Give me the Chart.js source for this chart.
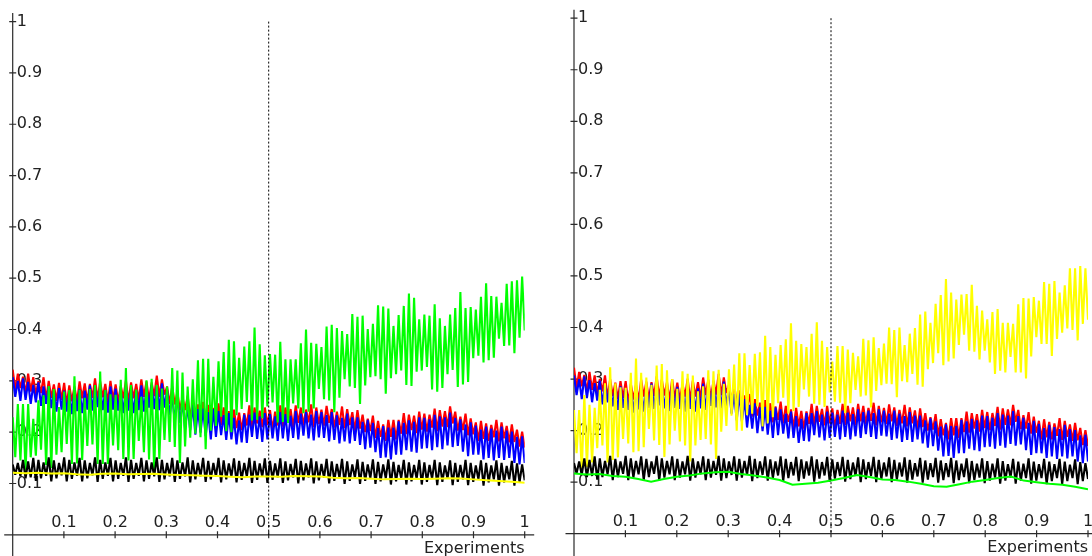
<!DOCTYPE html>
<html>
<head>
<meta charset="utf-8">
<title>Experiments</title>
<script src="https://cdn.jsdelivr.net/npm/chart.js@4.4.1/dist/chart.umd.min.js"></script>
<style>
  html, body { margin: 0; padding: 0; background: #fff; overflow: hidden; width: 1092px; height: 556px; }
  canvas { position: absolute; top: 0; }
  #left { left: 0; }
  #right { left: 561px; }
</style>
</head>
<body>
<canvas id="left" width="546" height="556"></canvas>
<canvas id="right" width="546" height="556"></canvas>
<script>
// ---- axis ticks ----
const xTicks = [0.1, 0.2, 0.3, 0.4, 0.5, 0.6, 0.7, 0.8, 0.9, 1];
const xTickLabels = ['0.1', '0.2', '0.3', '0.4', '0.5', '0.6', '0.7', '0.8', '0.9', '1'];
const yTicks = [0.1, 0.2, 0.3, 0.4, 0.5, 0.6, 0.7, 0.8, 0.9, 1];
const yTickLabels = ['0.1', '0.2', '0.3', '0.4', '0.5', '0.6', '0.7', '0.8', '0.9', '1'];
const markerX = 0.5;
const xTitle = 'Experiments';

// ---- oscillating series: upper / lower value of each swing (100 swings over 0..1) ----
const redHi = [
  0.322,0.314,0.308,0.314,0.307,0.300,0.307,0.300,0.293,0.296,
  0.296,0.291,0.289,0.299,0.295,0.294,0.305,0.299,0.294,0.300,
  0.293,0.290,0.301,0.297,0.294,0.303,0.299,0.297,0.310,0.303,
  0.289,0.289,0.278,0.268,0.271,0.261,0.254,0.259,0.253,0.247,
  0.256,0.248,0.241,0.244,0.238,0.237,0.252,0.248,0.242,0.248,
  0.243,0.240,0.252,0.248,0.245,0.252,0.248,0.244,0.254,0.248,
  0.244,0.251,0.245,0.240,0.250,0.245,0.239,0.243,0.234,0.226,
  0.232,0.222,0.215,0.224,0.224,0.224,0.237,0.234,0.232,0.240,
  0.236,0.234,0.246,0.243,0.241,0.250,0.240,0.230,0.236,0.227,
  0.219,0.222,0.217,0.214,0.224,0.219,0.212,0.215,0.205,0.201];
const redLo = [
  0.282,0.286,0.274,0.279,0.272,0.276,0.263,0.267,0.261,0.263,
  0.253,0.260,0.258,0.266,0.259,0.267,0.263,0.268,0.258,0.263,
  0.259,0.266,0.258,0.266,0.262,0.269,0.261,0.270,0.269,0.273,
  0.255,0.254,0.243,0.243,0.227,0.229,0.223,0.227,0.216,0.221,
  0.214,0.217,0.205,0.208,0.204,0.213,0.210,0.217,0.210,0.214,
  0.205,0.213,0.211,0.218,0.210,0.218,0.213,0.219,0.210,0.216,
  0.213,0.218,0.209,0.214,0.208,0.214,0.203,0.207,0.200,0.202,
  0.189,0.191,0.183,0.191,0.186,0.197,0.196,0.204,0.198,0.205,
  0.201,0.209,0.202,0.211,0.210,0.217,0.203,0.204,0.194,0.196,
  0.183,0.187,0.183,0.190,0.182,0.188,0.180,0.181,0.172,0.170];
const blueHi = [
  0.307,0.300,0.305,0.298,0.292,0.297,0.289,0.289,0.281,0.286,
  0.281,0.277,0.286,0.283,0.281,0.291,0.286,0.288,0.282,0.289,
  0.285,0.281,0.289,0.285,0.282,0.291,0.287,0.292,0.289,0.295,
  0.283,0.271,0.272,0.261,0.250,0.253,0.245,0.246,0.239,0.245,
  0.241,0.233,0.237,0.228,0.223,0.234,0.234,0.238,0.231,0.237,
  0.235,0.231,0.239,0.235,0.232,0.241,0.236,0.239,0.234,0.241,
  0.239,0.233,0.239,0.233,0.228,0.236,0.229,0.229,0.220,0.224,
  0.218,0.208,0.212,0.209,0.209,0.221,0.218,0.223,0.220,0.229,
  0.228,0.225,0.234,0.231,0.229,0.238,0.228,0.225,0.215,0.219,
  0.213,0.205,0.211,0.207,0.203,0.211,0.203,0.201,0.191,0.192];
const blueLo = [
  0.269,0.261,0.263,0.255,0.258,0.251,0.255,0.247,0.240,0.244,
  0.240,0.235,0.241,0.237,0.244,0.242,0.249,0.243,0.238,0.244,
  0.242,0.237,0.242,0.237,0.243,0.240,0.248,0.245,0.243,0.248,
  0.233,0.220,0.218,0.206,0.204,0.195,0.199,0.192,0.186,0.191,
  0.194,0.185,0.186,0.176,0.180,0.179,0.191,0.187,0.181,0.186,
  0.188,0.183,0.188,0.183,0.189,0.186,0.193,0.188,0.184,0.190,
  0.189,0.182,0.185,0.178,0.182,0.178,0.183,0.175,0.167,0.170,
  0.161,0.150,0.151,0.147,0.156,0.156,0.165,0.162,0.160,0.168,
  0.169,0.165,0.171,0.167,0.174,0.171,0.173,0.162,0.153,0.156,
  0.156,0.147,0.150,0.145,0.150,0.146,0.150,0.140,0.137,0.140];
const blackHi = [
  0.137,0.140,0.146,0.143,0.150,0.146,0.141,0.151,0.145,0.140,
  0.151,0.146,0.141,0.150,0.145,0.140,0.151,0.146,0.141,0.150,
  0.145,0.140,0.151,0.146,0.140,0.150,0.145,0.141,0.151,0.146,
  0.140,0.150,0.145,0.141,0.151,0.145,0.140,0.150,0.144,0.140,
  0.150,0.145,0.139,0.149,0.144,0.140,0.150,0.144,0.139,0.149,
  0.144,0.139,0.149,0.143,0.138,0.148,0.144,0.139,0.149,0.143,
  0.138,0.148,0.143,0.138,0.148,0.143,0.137,0.147,0.142,0.137,
  0.147,0.142,0.137,0.147,0.142,0.136,0.146,0.141,0.136,0.146,
  0.141,0.136,0.146,0.141,0.135,0.145,0.140,0.136,0.146,0.140,
  0.135,0.145,0.140,0.135,0.145,0.140,0.134,0.144,0.139,0.137];
const blackLo = [
  0.117,0.114,0.110,0.112,0.105,0.110,0.115,0.104,0.110,0.116,
  0.104,0.109,0.115,0.104,0.110,0.116,0.103,0.109,0.115,0.104,
  0.109,0.115,0.103,0.109,0.115,0.104,0.109,0.114,0.103,0.108,
  0.114,0.103,0.109,0.114,0.102,0.108,0.114,0.103,0.108,0.113,
  0.102,0.108,0.113,0.102,0.107,0.113,0.101,0.107,0.113,0.101,
  0.107,0.112,0.101,0.106,0.112,0.100,0.106,0.112,0.100,0.106,
  0.111,0.100,0.105,0.111,0.099,0.105,0.111,0.099,0.105,0.110,
  0.099,0.104,0.110,0.098,0.104,0.110,0.098,0.104,0.109,0.098,
  0.103,0.109,0.097,0.103,0.109,0.097,0.103,0.108,0.097,0.103,
  0.108,0.096,0.102,0.108,0.096,0.102,0.108,0.096,0.102,0.106];
const greenRiseHi = [
  0.229,0.255,0.255,0.255,0.226,0.262,0.272,0.290,0.284,0.249,
  0.279,0.282,0.309,0.282,0.267,0.284,0.292,0.318,0.282,0.274,
  0.273,0.302,0.325,0.292,0.283,0.269,0.301,0.304,0.292,0.285,
  0.289,0.325,0.320,0.316,0.289,0.303,0.340,0.343,0.343,0.308,
  0.338,0.356,0.380,0.377,0.345,0.367,0.377,0.404,0.371,0.350,
  0.352,0.351,0.376,0.342,0.342,0.342,0.373,0.400,0.374,0.372,
  0.366,0.406,0.409,0.403,0.397,0.391,0.430,0.425,0.427,0.401,
  0.411,0.447,0.445,0.441,0.407,0.428,0.446,0.470,0.462,0.420,
  0.429,0.427,0.449,0.422,0.407,0.429,0.442,0.473,0.442,0.444,
  0.439,0.464,0.490,0.465,0.464,0.452,0.489,0.494,0.496,0.503];
const greenRiseLo = [
  0.151,0.145,0.125,0.151,0.154,0.166,0.136,0.130,0.156,0.161,
  0.177,0.138,0.139,0.146,0.173,0.176,0.138,0.138,0.138,0.174,
  0.165,0.148,0.145,0.148,0.183,0.161,0.147,0.124,0.148,0.185,
  0.181,0.171,0.140,0.172,0.189,0.197,0.190,0.167,0.203,0.212,
  0.230,0.202,0.200,0.233,0.245,0.259,0.223,0.224,0.227,0.250,
  0.258,0.219,0.220,0.218,0.256,0.246,0.237,0.240,0.246,0.284,
  0.264,0.262,0.239,0.267,0.303,0.289,0.286,0.255,0.291,0.307,
  0.309,0.303,0.275,0.305,0.313,0.320,0.292,0.290,0.318,0.320,
  0.327,0.283,0.279,0.286,0.313,0.321,0.288,0.293,0.298,0.344,
  0.349,0.336,0.340,0.345,0.382,0.368,0.369,0.354,0.384,0.398];
const yellowRiseHi = [
  0.240,0.240,0.269,0.250,0.244,0.279,0.292,0.323,0.292,0.284,
  0.283,0.312,0.340,0.312,0.303,0.289,0.326,0.329,0.317,0.300,
  0.281,0.315,0.310,0.307,0.276,0.286,0.317,0.315,0.318,0.291,
  0.319,0.328,0.350,0.350,0.327,0.349,0.352,0.384,0.362,0.347,
  0.366,0.377,0.408,0.374,0.368,0.362,0.388,0.410,0.374,0.362,
  0.334,0.364,0.364,0.357,0.351,0.344,0.378,0.375,0.381,0.360,
  0.369,0.400,0.395,0.400,0.366,0.388,0.399,0.425,0.431,0.409,
  0.446,0.463,0.494,0.468,0.454,0.464,0.465,0.483,0.442,0.433,
  0.416,0.430,0.436,0.409,0.409,0.407,0.445,0.457,0.456,0.459,
  0.452,0.488,0.485,0.490,0.468,0.482,0.515,0.515,0.519,0.515];
const yellowRiseLo = [
  0.156,0.120,0.129,0.138,0.166,0.171,0.138,0.143,0.148,0.184,
  0.175,0.158,0.160,0.168,0.203,0.181,0.172,0.149,0.173,0.200,
  0.179,0.171,0.140,0.171,0.182,0.184,0.173,0.145,0.198,0.209,
  0.229,0.200,0.200,0.230,0.233,0.247,0.208,0.214,0.226,0.253,
  0.264,0.233,0.238,0.246,0.280,0.266,0.252,0.250,0.246,0.274,
  0.256,0.254,0.234,0.253,0.279,0.266,0.268,0.245,0.277,0.288,
  0.291,0.290,0.265,0.296,0.294,0.310,0.289,0.285,0.319,0.331,
  0.350,0.327,0.334,0.340,0.366,0.386,0.355,0.353,0.338,0.355,
  0.332,0.310,0.316,0.313,0.343,0.313,0.313,0.301,0.344,0.381,
  0.368,0.368,0.345,0.378,0.390,0.398,0.395,0.375,0.407,0.415];

// ---- smooth baseline series (evenly spaced over 0..1) ----
const yellowBase = [0.121,0.120,0.121,0.1195,0.120,0.118,0.117,0.119,0.1195,0.118,0.1185,0.119,0.1175,0.1165,0.116,0.115,0.1145,0.113,0.112,0.1135,
  0.1135,0.113,0.1145,0.114,0.1135,0.111,0.110,0.1105,0.109,0.108,0.1085,0.109,0.1085,0.109,0.110,0.1095,0.108,0.1065,0.105,0.1035,0.1015];
const greenBase = [0.117,0.115,0.116,0.112,0.1105,0.106,0.101,0.106,0.1105,0.113,0.117,0.119,0.120,0.116,0.113,0.109,0.104,0.095,0.097,0.099,
  0.103,0.108,0.114,0.110,0.105,0.104,0.101,0.097,0.092,0.091,0.096,0.101,0.104,0.108,0.111,0.103,0.100,0.097,0.095,0.091,0.086];

// each swing: upper value, then lower value, on an even grid from 0 to 1
function swings(hi, lo) {
  const n = hi.length * 2 - 1;
  const pts = [];
  hi.forEach((h, k) => {
    pts.push({ x: (2 * k) / n, y: h });
    pts.push({ x: (2 * k + 1) / n, y: lo[k] });
  });
  return pts;
}
function evenly(vals) {
  return vals.map((v, i) => ({ x: i / (vals.length - 1), y: v }));
}

Chart.defaults.font.family = '"DejaVu Sans", sans-serif';
Chart.defaults.font.size = 16;
Chart.defaults.color = '#222';

// axis lines that run past the plot area and crossing tick marks (under the data),
// dotted marker line (over the data)
const axisDecor = {
  id: 'axisDecor',
  beforeDatasetsDraw(chart) {
    const { ctx, scales: { x, y } } = chart;
    const x0 = x.getPixelForValue(0), x1 = x.getPixelForValue(1);
    const y0 = y.getPixelForValue(0), y1 = y.getPixelForValue(1);
    ctx.save();
    ctx.strokeStyle = '#2b2b2b';
    ctx.lineWidth = 1.2;
    ctx.beginPath();
    ctx.moveTo(x0, y1 - 8.5); ctx.lineTo(x0, chart.height);
    ctx.moveTo(x0 - 8.5, y0); ctx.lineTo(x1 + 9.5, y0);
    yTicks.forEach(v => { const p = y.getPixelForValue(v); ctx.moveTo(x0 - 3.5, p); ctx.lineTo(x0 + 3.5, p); });
    xTicks.forEach(v => { const p = x.getPixelForValue(v); ctx.moveTo(p, y0 - 3.5); ctx.lineTo(p, y0 + 3.5); });
    ctx.stroke();
    ctx.restore();
  },
  afterDatasetsDraw(chart) {
    const { ctx, scales: { x, y } } = chart;
    const xm = x.getPixelForValue(markerX);
    ctx.save();
    ctx.setLineDash([2, 2]);
    ctx.strokeStyle = '#000';
    ctx.lineWidth = 1;
    ctx.beginPath();
    ctx.moveTo(xm, y.getPixelForValue(1)); ctx.lineTo(xm, y.getPixelForValue(0));
    ctx.stroke();
    ctx.restore();
  }
};

function swingSet(label, color, hi, lo) {
  return { label, data: swings(hi, lo), borderColor: color, borderWidth: 2.1,
           borderJoinStyle: 'bevel', pointRadius: 0, tension: 0, fill: false };
}
function baseSet(label, color, vals) {
  return { label, data: evenly(vals), borderColor: color, borderWidth: 2,
           pointRadius: 0, tension: 0, fill: false };
}

function makePanel(id, datasets, pad) {
  new Chart(document.getElementById(id), {
    type: 'line',
    data: { datasets },
    options: {
      responsive: false,
      animation: false,
      events: [],
      layout: { padding: pad },
      plugins: { legend: { display: false }, tooltip: { enabled: false } },
      scales: {
        x: {
          type: 'linear', min: 0, max: 1, position: 'bottom',
          afterBuildTicks: s => { s.ticks = xTicks.map(v => ({ value: v })); },
          afterFit: s => { s.height = 0; },
          grid: { display: false, drawTicks: false },
          border: { display: false },
          ticks: { mirror: true, autoSkip: false, maxRotation: 0, minRotation: 0, padding: 2.5,
                   callback: (v, i) => xTickLabels[i] },
          title: { display: true, text: xTitle, align: 'end', padding: { top: 0, bottom: -24 } }
        },
        y: {
          type: 'linear', min: 0, max: 1, position: 'left',
          afterBuildTicks: s => { s.ticks = yTicks.map(v => ({ value: v })); },
          afterFit: s => { s.width = 0; },
          grid: { display: false, drawTicks: false },
          border: { display: false },
          ticks: { mirror: true, padding: 4, callback: (v, i) => yTickLabels[i] }
        }
      }
    },
    plugins: [axisDecor]
  });
}

// first dataset is painted last (on top)
makePanel('left', [
  baseSet('yellow', '#ffff00', yellowBase),
  swingSet('black', '#000000', blackHi, blackLo),
  swingSet('green', '#00ff00', greenRiseHi, greenRiseLo),
  swingSet('blue', '#0000ff', blueHi, blueLo),
  swingSet('red', '#ff0000', redHi, redLo)
], { left: 12.7, right: 21.3, top: 21.6, bottom: 21.2 });

makePanel('right', [
  baseSet('green', '#00ff00', greenBase),
  swingSet('black', '#000000', blackHi, blackLo),
  swingSet('yellow', '#ffff00', yellowRiseHi, yellowRiseLo),
  swingSet('blue', '#0000ff', blueHi, blueLo),
  swingSet('red', '#ff0000', redHi, redLo)
], { left: 13, right: 19, top: 18.2, bottom: 22.3 });
</script>
</body>
</html>
